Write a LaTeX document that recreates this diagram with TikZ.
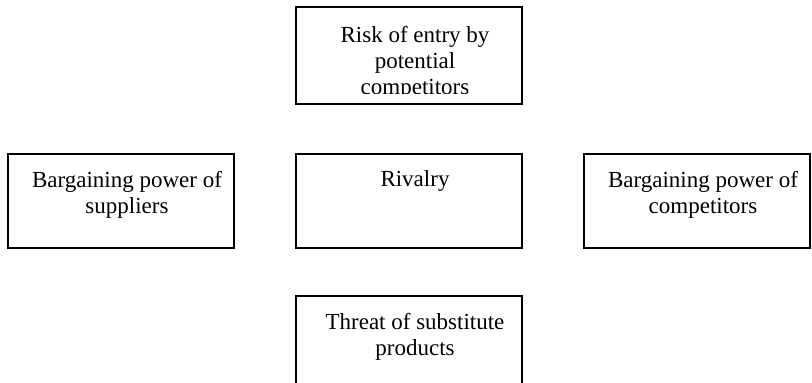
\documentclass[tikz,border=0pt]{standalone}
\usepackage{fontspec}
\setmainfont{Liberation Serif}
\usetikzlibrary{positioning}
\tikzset{
  every picture/.style={line width=1.2pt},
  box/.style={draw=black, minimum width=226pt, minimum height=#1, inner sep=0pt},
  box/.default=94pt,
  boxtext/.style={font=\fontsize{23}{26}\selectfont, align=center, inner sep=0pt, anchor=north},
}
\begin{document}
\begin{tikzpicture}[x=1pt, y=-1pt]
  \clip (0,0) rectangle (812,383);
  % entry
  \node[box=97pt] (risk) at (409,55.5) {};
  \begin{scope}
    \clip (296,7) rectangle (522,93);
    \node[boxtext, below=19pt of risk.north, xshift=6pt] (risktext) {Risk of entry by\\potential\\competitors};
  \end{scope}
  % middle row
  \node[box] (supp) at (121,201) {};
  \node[box] (rival) at (409,201) {};
  \node[box] (comp) at (697,201) {};
  \node[boxtext, below=17pt of supp.north, xshift=6pt] (supptext) {Bargaining power of\\suppliers};
  \node[boxtext, below=17pt of rival.north, xshift=6pt] (rivaltext) {Rivalry};
  \node[boxtext, below=17pt of comp.north, xshift=6pt] (comptext) {Bargaining power of\\competitors};
  % substitutes
  \node[box=124pt] (subst) at (409,358) {};
  \node[boxtext, below=17pt of subst.north, xshift=6pt] (substtext) {Threat of substitute\\products};
\end{tikzpicture}
\end{document}
